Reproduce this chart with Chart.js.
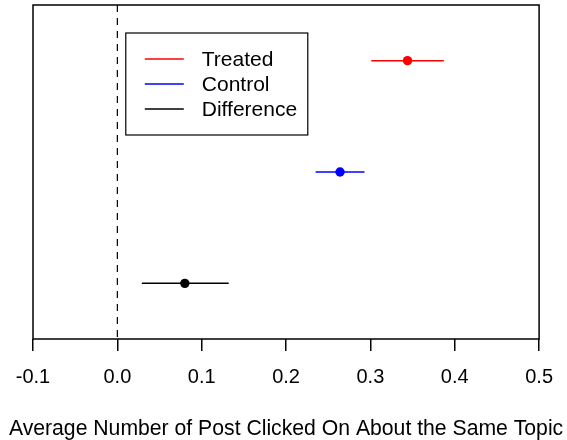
<!DOCTYPE html>
<html>
<head>
<meta charset="utf-8">
<script src="https://cdn.jsdelivr.net/npm/chart.js@4"></script>
<style>
  html, body { margin: 0; padding: 0; background: #fff; }
  #wrap { width: 567px; height: 440px; }
</style>
</head>
<body>
<div id="wrap"><canvas id="grafico"></canvas></div>
<script>
// datos
const categorias = ['Treated', 'Control', 'Difference'];
const estimaciones = [0.344, 0.264, 0.080];
const limiteInferior = [0.301, 0.235, 0.029];
const limiteSuperior = [0.387, 0.293, 0.132];
const filas = [3, 2, 1];
const colores = ['#ff0000', '#0000ff', '#000000'];
const ticksX = [-0.1, 0.0, 0.1, 0.2, 0.3, 0.4, 0.5];
const tituloX = 'Average Number of Post Clicked On About the Same Topic';

const fuente = "'Liberation Sans', Arial, sans-serif";

// un dataset de linea por intervalo, y uno de puntos para las estimaciones
const datasets = categorias.map((cat, i) => ({
    type: 'line',
    label: cat,
    data: [{ x: limiteInferior[i], y: filas[i] }, { x: limiteSuperior[i], y: filas[i] }],
    borderColor: colores[i],
    borderWidth: 1.5,
    pointRadius: 0,
    fill: false
}));
datasets.push({
    type: 'scatter',
    label: 'estimaciones',
    data: estimaciones.map((v, i) => ({ x: v, y: filas[i] })),
    backgroundColor: colores,
    borderColor: colores,
    pointRadius: 4.7,
    pointBorderWidth: 0
});

/**
 * Dibuja la caja, la linea discontinua en cero, la leyenda y el titulo del eje
 */
const extras = {
    id: 'extras',
    beforeDatasetsDraw(chart) {
        const { ctx, chartArea, scales } = chart;
        const x0 = scales.x.getPixelForValue(0);
        ctx.save();
        ctx.strokeStyle = '#000';
        ctx.lineWidth = 1.2;
        ctx.setLineDash([7, 6]);
        ctx.beginPath();
        ctx.moveTo(x0, chartArea.top);
        ctx.lineTo(x0, chartArea.bottom);
        ctx.stroke();
        ctx.restore();
    },
    afterDraw(chart) {
        const { ctx, chartArea, scales } = chart;
        ctx.save();
        ctx.strokeStyle = '#000';
        ctx.lineWidth = 1.5;
        ctx.strokeRect(chartArea.left, chartArea.top,
            chartArea.right - chartArea.left, chartArea.bottom - chartArea.top);

        // leyenda
        const lx = scales.x.getPixelForValue(0.01);
        const ly = chartArea.top + 28;
        const ancho = 182, alto = 102;
        ctx.fillStyle = '#fff';
        ctx.fillRect(lx, ly, ancho, alto);
        ctx.lineWidth = 1.2;
        ctx.strokeRect(lx, ly, ancho, alto);
        ctx.font = '21px ' + fuente;
        ctx.textBaseline = 'middle';
        ctx.textAlign = 'left';
        categorias.forEach((cat, i) => {
            const y = ly + 26 + i * 25;
            ctx.strokeStyle = colores[i];
            ctx.lineWidth = 1.5;
            ctx.beginPath();
            ctx.moveTo(lx + 19, y);
            ctx.lineTo(lx + 58, y);
            ctx.stroke();
            ctx.fillStyle = '#000';
            ctx.fillText(cat, lx + 76, y + 1);
        });

        // titulo del eje x (sin limite de ancho)
        ctx.font = '21.2px ' + fuente;
        ctx.textAlign = 'center';
        ctx.fillStyle = '#000';
        ctx.fillText(tituloX, (chartArea.left + chartArea.right) / 2, chartArea.bottom + 90);
        ctx.restore();
    }
};

new Chart(document.getElementById('grafico'), {
    data: { datasets: datasets },
    options: {
        responsive: true,
        maintainAspectRatio: false,
        animation: false,
        events: [],
        layout: { padding: { left: 33, right: 26, top: 5, bottom: 37 } },
        plugins: {
            legend: { display: false },
            tooltip: { enabled: false }
        },
        scales: {
            x: {
                type: 'linear',
                min: -0.1,
                max: 0.5,
                afterBuildTicks: scale => {
                    scale.ticks = ticksX.map(v => ({ value: v }));
                },
                ticks: {
                    color: '#000',
                    font: { family: fuente, size: 20 },
                    padding: 14,
                    maxRotation: 0,
                    callback: v => v.toFixed(1)
                },
                grid: {
                    drawOnChartArea: false,
                    drawTicks: true,
                    tickLength: 12,
                    color: '#000',
                    lineWidth: 1.5
                },
                border: { display: false },
                title: { display: false }
            },
            y: {
                type: 'linear',
                display: false,
                min: 0.5,
                max: 3.5
            }
        }
    },
    plugins: [extras]
});
</script>
</body>
</html>
